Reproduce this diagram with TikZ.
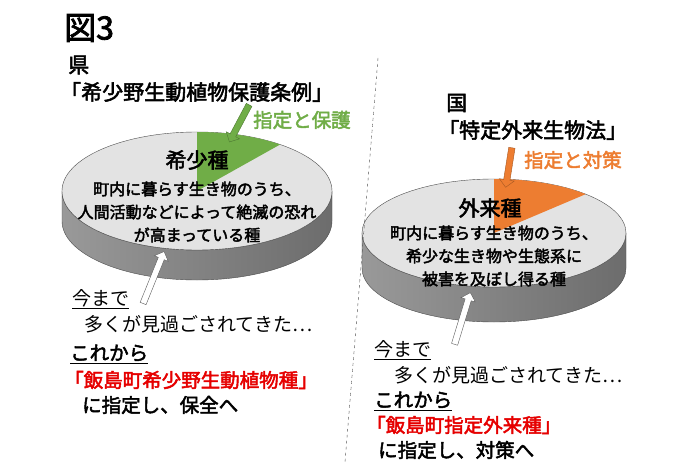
\documentclass[tikz,border=0pt]{standalone}
\usepackage{fontspec}
\newfontfamily\jp[AutoFakeBold=2.5]{Noto Sans CJK JP}
\usetikzlibrary{shapes.arrows,positioning}
\definecolor{grn}{RGB}{112,173,71}
\definecolor{org}{RGB}{237,125,49}
\definecolor{redt}{RGB}{230,0,0}

\tikzset{
  txt/.style={font=\jp\bfseries\fontsize{19.5}{22}\selectfont, inner sep=0pt, anchor=west},
  plain/.style={font=\jp\fontsize{19}{22}\selectfont, inner sep=0pt, anchor=west},
  head/.style={font=\jp\bfseries\fontsize{21}{24}\selectfont, inner sep=0pt, anchor=west},
  body/.style={font=\jp\bfseries\fontsize{16}{23}\selectfont, align=center, inner sep=0pt},
  spname/.style={font=\jp\bfseries\fontsize{21}{24}\selectfont, inner sep=0pt},
  blockarrow/.style={single arrow, draw=#1!70!black, fill=#1, minimum width=15pt,
    single arrow head extend=3pt, single arrow head indent=0pt, inner sep=2pt},
  side/.style={left color=gray!80, middle color=gray!35, right color=gray!85!black, draw=gray!60!black},
  topface/.style={fill=gray!22, draw=gray!60!black}
}

\begin{document}
\begin{tikzpicture}[x=1pt,y=-1pt]
        \useasboundingbox (0,0) rectangle (700,470);
        \fill[white] (0,0) rectangle (700,470);

        % left disk
        \draw[side] (62,191) -- (62,221) arc[start angle=180, end angle=0, x radius=135, y radius=59]
              -- (332,191) arc[start angle=0, end angle=180, x radius=135, y radius=59] -- cycle;
        \draw[topface] (197,191) ellipse [x radius=135, y radius=59];
        \fill[grn] (197,191) -- (197,132) arc[start angle=-90, end angle=-52, x radius=135, y radius=59] -- cycle;

        % right disk
        \draw[side] (362,233) -- (362,268) arc[start angle=180, end angle=0, x radius=132, y radius=54]
              -- (626,233) arc[start angle=0, end angle=180, x radius=132, y radius=54] -- cycle;
        \draw[topface] (494,233) ellipse [x radius=132, y radius=54];
        \fill[org] (494,233) -- (494,179) arc[start angle=-90, end angle=-46, x radius=132, y radius=54] -- cycle;

        % separator
        \draw[dashed, gray!60!black] (378,58) -- (345,462);

        % left labels
        \node[txt, font=\jp\bfseries\fontsize{32}{34}\selectfont] (title) at (64,28) {図3};
        \node[head] (ken) at (68,65) {県};
        \node[head] (jorei) at (60,92) {「希少野生動植物保護条例」};
        \node[blockarrow=grn, minimum height=42pt, rotate=242] (garrow) at (240,122) {};
        \node[txt, text=grn] (hogo) at (253,120) {指定と保護};
        \node[spname] (kisho) at (197,160) {希少種};
        \node[body] (kdesc) at (197,212) {町内に暮らす生き物のうち、\\人間活動などによって絶滅の恐れ\\が高まっている種};
        \node[blockarrow=white, draw=gray!70!black, minimum height=56pt, rotate=68] (warrow1) at (153,279) {};
        \node[plain] (imal) at (72,299) {\underline{今まで}};
        \node[plain] (ooku) at (84,324) {多くが見過ごされてきた…};
        \node[txt] (korel) at (70,354) {\underline{これから}};
        \node[txt, text=redt] (iijimal) at (64,380) {「飯島町希少野生動植物種」};
        \node[txt] (hozen) at (82,405) {に指定し、保全へ};

        % right labels
        \node[head] (kuni) at (446,103) {国};
        \node[head] (hou) at (438,130) {「特定外来生物法」};
        \node[blockarrow=org, minimum height=40pt, rotate=261] (oarrow) at (509,166) {};
        \node[txt, text=org] (taisaku) at (524,160) {指定と対策};
        \node[spname] (gairai) at (490,208) {外来種};
        \node[body] (gdesc) at (494,256) {町内に暮らす生き物のうち、\\希少な生き物や生態系に\\被害を及ぼし得る種};
        \node[blockarrow=white, draw=gray!70!black, minimum height=54pt, rotate=73] (warrow2) at (462,320) {};
        \node[plain] (imar) at (374,350) {\underline{今まで}};
        \node[plain] (ookur) at (394,375) {多くが見過ごされてきた…};
        \node[txt] (korer) at (374,401) {\underline{これから}};
        \node[txt, text=redt] (iijimar) at (366,425) {「飯島町指定外来種」};
        \node[txt] (taisakur) at (378,450) {に指定し、対策へ};
\end{tikzpicture}
\end{document}
